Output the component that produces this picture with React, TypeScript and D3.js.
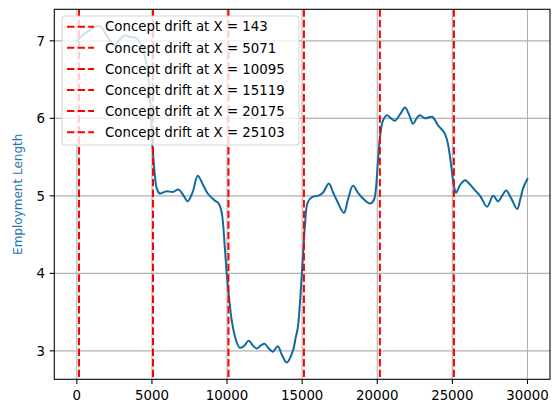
import React from "react";
import * as d3 from "d3";

const xs = [0, 713, 1513, 2047, 2513, 2847, 3180, 3580, 3980, 4380, 4713, 4913, 5047, 5180, 5313, 5513, 5980, 6380, 6780, 7113, 7380, 7713, 8047, 8380, 8713, 9180, 9447, 9647, 9847, 9980, 10180, 10313, 10580, 10847, 11113, 11447, 11713, 11980, 12247, 12513, 12780, 13047, 13380, 13647, 13980, 14380, 14580, 14713, 14847, 14980, 15047, 15180, 15380, 15713, 16047, 16380, 16780, 17047, 17313, 17780, 18047, 18380, 18713, 18980, 19513, 19780, 19913, 20047, 20180, 20380, 20647, 20913, 21180, 21513, 21847, 22113, 22380, 22647, 22847, 23180, 23647, 24047, 24447, 24647, 24847, 24980, 25113, 25247, 25513, 25847, 26113, 26513, 26847, 27313, 27713, 28047, 28313, 28580, 28913, 29313, 29513, 29713, 30000];
const ys = [7.0, 7.12, 7.19, 7.05, 6.94, 7.02, 7.07, 7.05, 7.03, 6.9, 6.62, 6.1, 5.62, 5.3, 5.1, 5.03, 5.06, 5.05, 5.08, 5.0, 4.93, 5.05, 5.26, 5.15, 5.03, 4.94, 4.9, 4.78, 4.35, 3.99, 3.6, 3.39, 3.15, 3.04, 3.06, 3.13, 3.07, 3.03, 3.07, 3.09, 3.03, 2.99, 3.06, 2.95, 2.85, 3.0, 3.18, 3.3, 3.6, 4.0, 4.2, 4.6, 4.92, 4.99, 5.0, 5.04, 5.16, 5.05, 4.94, 4.78, 4.95, 5.13, 5.04, 4.98, 4.9, 4.95, 5.1, 5.45, 5.75, 5.97, 6.04, 6.0, 5.97, 6.05, 6.14, 6.05, 5.93, 6.01, 6.04, 6.0, 6.02, 5.91, 5.82, 5.72, 5.5, 5.3, 5.12, 5.04, 5.14, 5.2, 5.16, 5.07, 5.0, 4.86, 5.0, 4.93, 5.0, 5.07, 4.97, 4.83, 4.95, 5.1, 5.22];
const drifts = [143, 5071, 10095, 15119, 20175, 25103];
const xTicks = [0, 5000, 10000, 15000, 20000, 25000, 30000];
const yTicks = [3, 4, 5, 6, 7];
const yLabel = "Employment Length";

const W = 555, H = 402;
const L = 54.3, R = 550, T = 9.3, B = 379.3;
const FONT = "DejaVu Sans, sans-serif";

export default function App() {
  const data = xs.map((x, i) => [x, ys[i]] as [number, number]);
  const xPad = (30000 - 0) * 0.05;
  const x = d3.scaleLinear().domain([0 - xPad, 30000 + xPad]).range([L, R]);
  const [ymin, ymax] = d3.extent(ys) as [number, number];
  const yPad = (ymax - ymin) * 0.05;
  const y = d3.scaleLinear().domain([ymin - yPad, ymax + yPad]).range([B, T]);
  const line = d3.line<[number, number]>().x(d => x(d[0])).y(d => y(d[1])).curve(d3.curveCatmullRom.alpha(0.5));

  const legX = 62, legY = 16, legW = 237, legH = 129;
  const rowH = 21.1;
  return (
    <svg width={W} height={H} style={{ position: "absolute", left: 0, top: 0, background: "#fff" }} fontFamily={FONT}>
      <rect x={0} y={0} width={W} height={H} fill="#fff" />
      {xTicks.map(t => (
        <line key={"gx" + t} x1={x(t)} x2={x(t)} y1={T} y2={B} stroke="#b0b0b0" strokeWidth={1.07} />
      ))}
      {yTicks.map(t => (
        <line key={"gy" + t} x1={L} x2={R} y1={y(t)} y2={y(t)} stroke="#b0b0b0" strokeWidth={1.07} />
      ))}
      <path d={line(data) || ""} fill="none" stroke="#0e6b9f" strokeWidth={2} strokeLinejoin="round" strokeLinecap="round" />
      {drifts.map(d => (
        <line key={"d" + d} x1={x(d)} x2={x(d)} y1={T} y2={B} stroke="#ff0000" strokeWidth={2} strokeDasharray="7.4 3.2" />
      ))}
      <rect x={L} y={T} width={R - L} height={B - T} fill="none" stroke="#000" strokeWidth={1.07} />
      {xTicks.map(t => (
        <g key={"tx" + t}>
          <line x1={x(t)} x2={x(t)} y1={B} y2={B + 4.67} stroke="#000" strokeWidth={1.07} />
          <text x={x(t)} y={400} textAnchor="middle" fontSize={13.33} fill="#000">{t}</text>
        </g>
      ))}
      {yTicks.map(t => (
        <g key={"ty" + t}>
          <line x1={L - 4.67} x2={L} y1={y(t)} y2={y(t)} stroke="#000" strokeWidth={1.07} />
          <text x={L - 9.3} y={y(t)} dy="0.36em" textAnchor="end" fontSize={13.33} fill="#000">{t}</text>
        </g>
      ))}
      <text transform={`translate(${22},${(T + B) / 2}) rotate(-90)`} textAnchor="middle" fontSize={12} fill="#1f77b4">{yLabel}</text>
      <rect x={legX} y={legY} width={legW} height={legH} rx={3} fill="#fff" fillOpacity={0.8} stroke="#cccccc" strokeOpacity={0.8} strokeWidth={1.07} />
      {drifts.map((d, i) => {
        const cy = legY + 10.7 + i * rowH;
        return (
          <g key={"l" + d}>
            <line x1={67} x2={94} y1={cy} y2={cy} stroke="#ff0000" strokeWidth={2} strokeDasharray="7.4 3.2" />
            <text x={105} y={cy} dy="0.36em" fontSize={13.33} fill="#000">{`Concept drift at X = ${d}`}</text>
          </g>
        );
      })}
    </svg>
  );
}
